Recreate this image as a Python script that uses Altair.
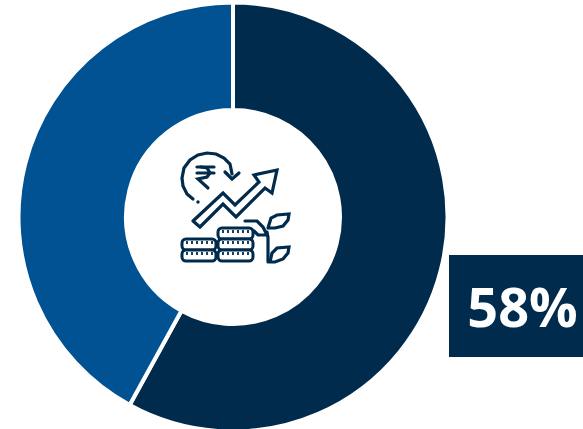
import altair as alt
import pandas as pd

NAVY = "#002b4d"
BLUE = "#005292"

# Donut shares, clockwise from twelve o'clock
segments = ["Share", "Remainder"]
shares = [58, 42]
seg_order = [1, 2]
seg_colors = [NAVY, BLUE]
callout = "58%"

# Icon outlines, in canvas units
arrow_x = [193, 223, 235, 259, 254, 277, 272, 265, 236, 223, 200, 193]
arrow_y = [221, 193, 205, 182, 175, 170, 193, 188, 217, 204, 227, 221]
ring_x = [193, 187, 183, 182, 184, 190, 198, 207, 216, 224, 230, 232]
ring_y = [199, 194, 186, 178, 168, 160, 155, 153, 154, 158, 164, 174]
chevron_x = [225, 232, 239]
chevron_y = [172, 179, 173]
rupee1_x = [197, 214]
rupee1_y = [167, 167]
rupee2_x = [197, 214]
rupee2_y = [173, 173]
rupee3_x = [201, 207, 210, 207, 198, 208]
rupee3_y = [167, 168, 173, 177, 179, 188]
stem_x = [268, 268, 267]
stem_y = [262, 238, 232]
leaf_top_x = [268, 271, 277, 289, 288, 283, 275, 268]
leaf_top_y = [228, 218, 215, 214, 220, 226, 228, 228]
leaf_low_x = [270, 272, 277, 289, 288, 283, 275, 270]
leaf_low_y = [262, 253, 248, 247, 253, 259, 262, 262]
leaf_left_x = [245, 257, 263, 267, 258, 254]
leaf_left_y = [221, 221, 227, 235, 235, 231]

strokes = [
    ("arrow", arrow_x, arrow_y),
    ("ring", ring_x, ring_y),
    ("chevron", chevron_x, chevron_y),
    ("rupee1", rupee1_x, rupee1_y),
    ("rupee2", rupee2_x, rupee2_y),
    ("rupee3", rupee3_x, rupee3_y),
    ("stem", stem_x, stem_y),
    ("leaf_top", leaf_top_x, leaf_top_y),
    ("leaf_low", leaf_low_x, leaf_low_y),
    ("leaf_left", leaf_left_x, leaf_left_y),
]
stroke_rows = [
    {"g": g, "i": i, "x": x, "y": y}
    for g, xs, ys in strokes
    for i, (x, y) in enumerate(zip(xs, ys))
]

# Coin rows: left, right, top, bottom
coin_x1 = [182, 182, 218, 218, 218]
coin_x2 = [216, 216, 253, 253, 253]
coin_y1 = [239, 250, 228, 239, 250]
coin_y2 = [250, 261, 239, 250, 261]
coins = pd.DataFrame({"x1": coin_x1, "x2": coin_x2, "y1": coin_y1, "y2": coin_y2})

# Milled edge ticks on the coins
tick_x = [
    187, 192, 197, 202, 207, 212, 187, 192, 197, 202, 207, 212,
    223, 228, 233, 238, 243, 248, 223, 228, 233, 238, 243, 248,
    223, 228, 233, 238, 243, 248,
]
tick_y = [
    241, 241, 241, 241, 241, 241, 252, 252, 252, 252, 252, 252,
    230, 230, 230, 230, 230, 230, 241, 241, 241, 241, 241, 241,
    252, 252, 252, 252, 252, 252,
]
ticks = pd.DataFrame({"x": tick_x, "y": tick_y, "y2": [v + 3 for v in tick_y]})

x_scale = alt.Scale(domain=[0, 583], range=[0, 583])
y_scale = alt.Scale(domain=[0, 429], range=[0, 429])
X = alt.X("x:Q", scale=x_scale, axis=None)
Y = alt.Y("y:Q", scale=y_scale, axis=None)

donut = (
    alt.Chart(pd.DataFrame({"segment": segments, "share": shares, "order": seg_order}))
    .mark_arc(innerRadius=107, outerRadius=214.5, stroke="white", strokeWidth=4)
    .encode(
        theta=alt.Theta("share:Q", stack=True, scale=alt.Scale(domain=[0, 100], range=[0, 6.28318530718])),
        order=alt.Order("order:O"),
        color=alt.Color("segment:N", scale=alt.Scale(domain=segments, range=seg_colors), legend=None),
        x=alt.value(233),
        y=alt.value(217),
    )
)

lines = (
    alt.Chart(pd.DataFrame(stroke_rows))
    .mark_line(color=NAVY, strokeWidth=3.2, strokeJoin="miter", strokeCap="round")
    .encode(x=X, y=Y, detail="g:N", order="i:Q")
)

dot = (
    alt.Chart(pd.DataFrame({"x": [198], "y": [202]}))
    .mark_point(filled=True, color=NAVY, size=12, opacity=1)
    .encode(x=X, y=Y)
)

coin_rects = (
    alt.Chart(coins)
    .mark_rect(fill="white", stroke=NAVY, strokeWidth=3, cornerRadius=4)
    .encode(
        x=alt.X("x1:Q", scale=x_scale, axis=None),
        x2="x2:Q",
        y=alt.Y("y1:Q", scale=y_scale, axis=None),
        y2="y2:Q",
    )
)

coin_ticks = (
    alt.Chart(ticks)
    .mark_rule(color=NAVY, strokeWidth=1.8)
    .encode(x=X, y=Y, y2="y2:Q")
)

box = (
    alt.Chart(pd.DataFrame({"x1": [449], "x2": [583], "y1": [255], "y2": [357]}))
    .mark_rect(fill=NAVY)
    .encode(
        x=alt.X("x1:Q", scale=x_scale, axis=None),
        x2="x2:Q",
        y=alt.Y("y1:Q", scale=y_scale, axis=None),
        y2="y2:Q",
    )
)

label = (
    alt.Chart(pd.DataFrame({"x": [522.5], "y": [310.5], "t": [callout]}))
    .mark_text(font="Open Sans", fontWeight="bold", fontSize=54, color="white", align="center", baseline="middle")
    .encode(x=X, y=Y, text="t:N")
)

chart = (
    alt.layer(donut, box, label, lines, dot, coin_rects, coin_ticks)
    .properties(
        width=583,
        height=429,
        padding=0,
        background="white",
        autosize=alt.AutoSizeParams(type="none"),
    )
    .configure_view(stroke=None)
)

chart.save("out.html", embed_options={"renderer": "svg", "actions": False})
